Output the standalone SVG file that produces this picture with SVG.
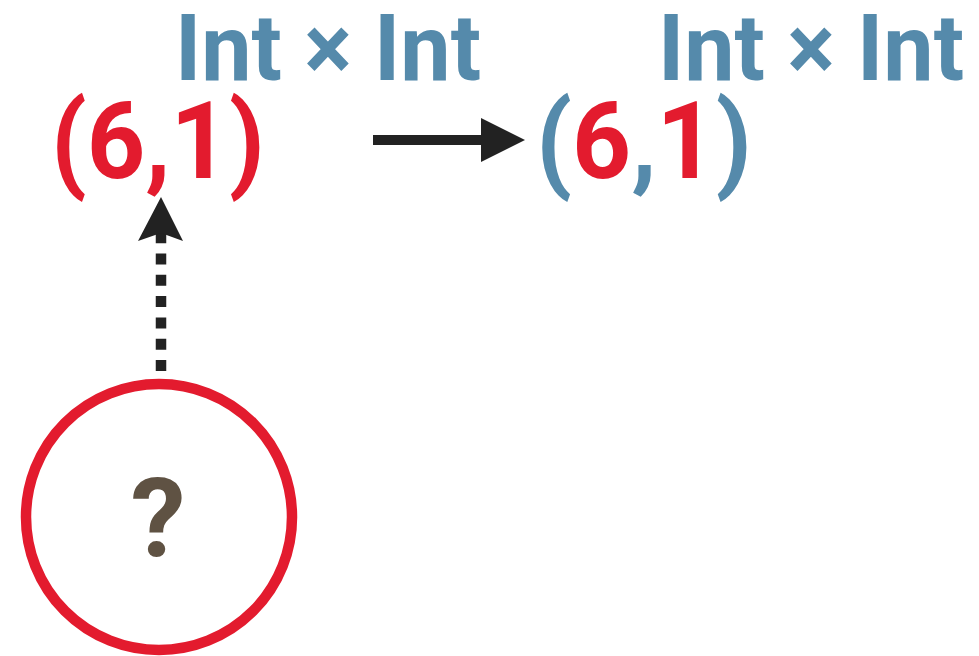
<svg xmlns="http://www.w3.org/2000/svg" width="979" height="656" viewBox="0 0 979 656">
<style>
text{font-family:Roboto,"Liberation Sans",sans-serif;font-weight:700}
.type{fill:#558aab;font-size:92px}
.val{font-size:108px}
.red{fill:#e31b2e}
.blue{fill:#558aab}
</style>
<rect width="979" height="656" fill="#fff"/>
<g id="left-type"><text class="type" x="175" y="80" textLength="306" lengthAdjust="spacingAndGlyphs">Int × Int</text></g>
<g id="left-value"><text class="val red" x="51" y="178" textLength="214" lengthAdjust="spacingAndGlyphs">(6,1)</text></g>
<g id="right-type"><text class="type" x="658" y="80" textLength="306" lengthAdjust="spacingAndGlyphs">Int × Int</text></g>
<g id="right-value"><text class="val" x="536" y="178" textLength="216" lengthAdjust="spacingAndGlyphs"><tspan class="blue">(</tspan><tspan class="red">6</tspan><tspan class="blue">,</tspan><tspan class="red">1</tspan><tspan class="blue">)</tspan></text></g>
<g id="unknown">
<circle cx="159" cy="517" r="133" fill="none" stroke="#e31b2e" stroke-width="10.5"/>
<text x="158" y="556" text-anchor="middle" font-size="110" fill="#5f5243">?</text>
</g>
<g id="connectors">
<line x1="373" y1="140" x2="484" y2="140" stroke="#222" stroke-width="10"/>
<polygon points="481,118 525,140 481,162" fill="#222"/>
<line x1="161" y1="371" x2="161" y2="232" stroke="#222" stroke-width="10.5" stroke-dasharray="11 10.3"/>
<polygon points="161,197 183,241 161,233 138,241" fill="#222"/>
</g>
</svg>
